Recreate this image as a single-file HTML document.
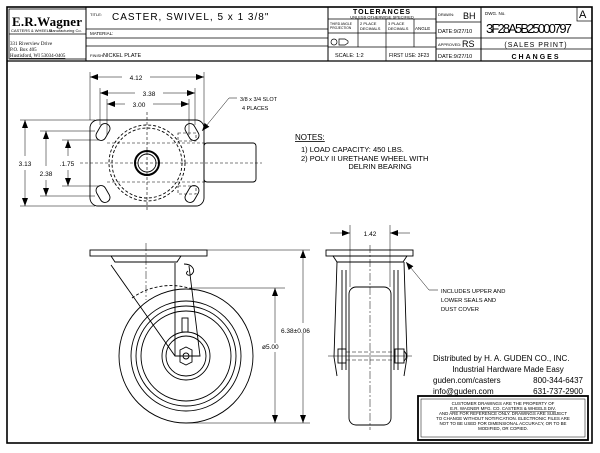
<!DOCTYPE html>
<html><head><style>
body{margin:0;background:#fff}
svg{display:block;font-family:"Liberation Sans",sans-serif}
</style></head><body>
<svg width="600" height="453" viewBox="0 0 600 453" xmlns="http://www.w3.org/2000/svg">
<defs>
<marker id="a" markerWidth="8" markerHeight="6" refX="8" refY="3" orient="auto-start-reverse" markerUnits="userSpaceOnUse"><path d="M0,0L8,3L0,6z" fill="#000"/></marker>
</defs>
<g fill="none" stroke="#000">
<rect x="7" y="7" width="585" height="436" stroke-width="1.6"/>
<line x1="7" y1="61" x2="592" y2="61" stroke-width="1.3"/>
<rect x="9" y="9" width="77" height="50" stroke-width="0.8"/>
<line x1="86" y1="7" x2="86" y2="61"/>
<line x1="86" y1="29" x2="328" y2="29" stroke-width="0.8"/>
<line x1="86" y1="38" x2="328" y2="38" stroke-width="0.8"/>
<line x1="86" y1="46" x2="328" y2="46" stroke-width="0.8"/>
<line x1="328" y1="7" x2="328" y2="61"/>
<line x1="328" y1="19" x2="436" y2="19" stroke-width="0.7"/>
<line x1="328" y1="33" x2="436" y2="33" stroke-width="0.7"/>
<line x1="328" y1="47" x2="436" y2="47" stroke-width="0.7"/>
<line x1="358" y1="19" x2="358" y2="47" stroke-width="0.7"/>
<line x1="386" y1="19" x2="386" y2="61" stroke-width="0.7"/>
<line x1="414" y1="19" x2="414" y2="47" stroke-width="0.7"/>
<line x1="436" y1="7" x2="436" y2="61"/>
<line x1="481" y1="7" x2="481" y2="61"/>
<line x1="436" y1="22" x2="481" y2="22" stroke-width="0.7"/>
<line x1="436" y1="38" x2="592" y2="38" stroke-width="0.7"/>
<line x1="436" y1="49" x2="592" y2="49" stroke-width="0.7"/>
<rect x="577" y="7" width="15" height="14" stroke-width="0.7"/>
<line x1="9" y1="34" x2="86" y2="34" stroke-width="0.7"/>
<circle cx="334" cy="42" r="3" stroke-width="0.7"/><path d="M339,39h6l3,2v2l-3,2h-6z" stroke-width="0.7"/>
</g>
<g font-size="5" fill="#000">
<text x="12" y="26" font-size="13" font-family="Liberation Serif" font-weight="bold" textLength="70">E.R.Wagner</text>
<text x="11" y="32" font-size="4">CASTERS &amp; WHEELS</text><text x="49" y="32" font-size="4">Manufacturing Co.</text>
<text x="10" y="45" font-family="Liberation Serif">331 Riverview Drive</text>
<text x="10" y="51" font-family="Liberation Serif">P.O. Box 405</text>
<text x="10" y="57" font-family="Liberation Serif" text-decoration="underline">Hustisford, WI 53034-0405</text>
<text x="90" y="16" font-size="4">TITLE:</text>
<text x="112" y="20" font-size="10" letter-spacing="1">CASTER, SWIVEL, 5 x 1 3/8"</text>
<text x="90" y="35" font-size="4.5">MATERIAL:</text>
<text x="90" y="57" font-size="4">FINISH:</text><text x="103" y="57" font-size="5.5">NICKEL PLATE</text>
<text x="382" y="14" font-size="7" font-weight="bold" text-anchor="middle" letter-spacing="1">TOLERANCES</text>
<text x="382" y="18.5" font-size="4" text-anchor="middle">UNLESS OTHERWISE SPECIFIED</text>
<text x="330" y="25" font-size="3.3">THIRD ANGLE</text><text x="330" y="29" font-size="3.3">PROJECTION</text>
<text x="360" y="25" font-size="4">2 PLACE</text><text x="360" y="30" font-size="4">DECIMALS</text>
<text x="388" y="25" font-size="4">3 PLACE</text><text x="388" y="30" font-size="4">DECIMALS</text>
<text x="415" y="30" font-size="4.5">ANGLE</text>
<text x="335" y="57" font-size="5.5">SCALE: 1:2</text>
<text x="389" y="57" font-size="5">FIRST USE: 3F23</text>
<text x="438" y="16" font-size="4">DRAWN:</text><text x="463" y="19" font-size="9">BH</text>
<text x="438" y="33" font-size="5.5">DATE:9/27/10</text>
<text x="438" y="46" font-size="4">APPROVED:</text><text x="462" y="47" font-size="9">RS</text>
<text x="438" y="58" font-size="5.5">DATE:9/27/10</text>
<text x="485" y="15" font-size="4.5">DWG. No.</text>
<text x="486" y="33" font-size="13" textLength="86">3F28A5B25000797</text>
<text x="579" y="18" font-size="11">A</text>
<text x="536" y="47" font-size="7" text-anchor="middle" letter-spacing="1">(SALES PRINT)</text>
<text x="536" y="59" font-size="7" font-weight="bold" text-anchor="middle" letter-spacing="2">CHANGES</text>
</g>

<g fill="none" stroke="#000" stroke-width="0.9">
<rect x="90" y="120" width="114" height="86" rx="8"/>
<rect x="204" y="143" width="52" height="39" rx="3"/>
<circle cx="147" cy="163" r="12" stroke-width="2"/>
<circle cx="147" cy="163" r="9"/>
<circle cx="147" cy="163" r="38" stroke-dasharray="3,2"/>
<circle cx="147" cy="163" r="35" stroke-dasharray="3,2"/>
<g transform="rotate(-60 103 132)"><rect x="94" y="127" width="18" height="10" rx="5"/></g>
<g transform="rotate(60 103 194)"><rect x="94" y="189" width="18" height="10" rx="5"/></g>
<g transform="rotate(60 192 132)"><rect x="183" y="127" width="18" height="10" rx="5"/></g>
<g transform="rotate(-60 192 194)"><rect x="183" y="189" width="18" height="10" rx="5"/></g>
<g stroke-dasharray="3,2" stroke-width="0.6">
<line x1="147" y1="112" x2="147" y2="212"/><line x1="80" y1="163" x2="262" y2="163"/>
<rect x="178" y="133" width="18" height="8"/><rect x="178" y="186" width="18" height="8"/>
<line x1="107" y1="143" x2="205" y2="143"/><line x1="107" y1="182" x2="205" y2="182"/>
</g>
<g stroke-width="0.5">
<line x1="90" y1="72" x2="90" y2="120"/><line x1="204" y1="72" x2="204" y2="130"/>
<line x1="100" y1="88" x2="100" y2="125"/><line x1="195" y1="88" x2="195" y2="125"/>
<line x1="107" y1="99" x2="107" y2="135"/><line x1="189" y1="99" x2="189" y2="135"/>
<line x1="20" y1="120" x2="95" y2="120"/><line x1="20" y1="206" x2="95" y2="206"/>
<line x1="40" y1="131" x2="95" y2="131"/><line x1="40" y1="196" x2="95" y2="196"/>
<line x1="62" y1="140" x2="100" y2="140"/><line x1="62" y1="186" x2="100" y2="186"/>
<line x1="90" y1="77" x2="122" y2="77" marker-start="url(#a)"/><line x1="150" y1="77" x2="204" y2="77" marker-end="url(#a)"/>
<line x1="100" y1="93" x2="135" y2="93" marker-start="url(#a)"/><line x1="163" y1="93" x2="195" y2="93" marker-end="url(#a)"/>
<line x1="107" y1="104" x2="125" y2="104" marker-start="url(#a)"/><line x1="153" y1="104" x2="189" y2="104" marker-end="url(#a)"/>
<line x1="25" y1="120" x2="25" y2="156" marker-start="url(#a)"/><line x1="25" y1="170" x2="25" y2="206" marker-end="url(#a)"/>
<line x1="46" y1="131" x2="46" y2="166" marker-start="url(#a)"/><line x1="46" y1="180" x2="46" y2="196" marker-end="url(#a)"/>
<line x1="68" y1="140" x2="68" y2="156" marker-start="url(#a)"/><line x1="68" y1="170" x2="68" y2="186" marker-end="url(#a)"/>
<path d="M237,98h-8l-27,33" marker-end="url(#a)"/>
</g>
</g>
<g font-size="6.5" fill="#000">
<text x="136" y="80" text-anchor="middle">4.12</text>
<text x="149" y="96" text-anchor="middle">3.38</text>
<text x="139" y="107" text-anchor="middle">3.00</text>
<text x="25" y="166" text-anchor="middle">3.13</text>
<text x="46" y="176" text-anchor="middle">2.38</text>
<text x="67" y="166" text-anchor="middle">.1.75</text>
<text x="240" y="101" font-size="5.5">3/8 x 3/4 SLOT</text>
<text x="242" y="110" font-size="5.5">4 PLACES</text>
<text x="295" y="140" font-size="8" text-decoration="underline">NOTES:</text>
<text x="301" y="152" font-size="7.5">1) LOAD CAPACITY: 450 LBS.</text>
<text x="301" y="161" font-size="7.5">2) POLY II URETHANE WHEEL WITH</text>
<text x="380" y="169" font-size="7.5" text-anchor="middle">DELRIN BEARING</text>
</g>

<g fill="none" stroke="#000" stroke-width="0.9">
<rect x="90" y="250" width="117" height="6"/>
<path d="M111,256h70l-4,6h-62z"/>
<circle cx="186" cy="356" r="67"/>
<circle cx="186" cy="356" r="55"/>
<circle cx="186" cy="356" r="50"/>
<circle cx="186" cy="356" r="45"/>
<circle cx="186" cy="356" r="24"/>
<circle cx="186" cy="356" r="20"/>
<path d="M111,265l64,91h25l-11,-90M175,263v93"/>
<path d="M184,264c8,0 12,6 8,10c-3,3 -8,0 -4,-3"/>
<polygon points="180,350 186,347 192,350 192,362 186,365 180,362"/>
<circle cx="186" cy="356" r="3"/>
<rect x="182" y="318" width="6" height="14"/>
<path d="M132,298a67,67 0 0 1 63,-8" stroke-dasharray="3,2"/>
<line x1="146" y1="243" x2="146" y2="300" stroke-dasharray="8,2,2,2" stroke-width="0.5"/>
<g stroke-width="0.5">
<line x1="207" y1="250" x2="310" y2="250"/>
<line x1="190" y1="288" x2="285" y2="288"/>
<line x1="186" y1="423" x2="310" y2="423"/>
<line x1="275" y1="288" x2="275" y2="343" marker-start="url(#a)"/><line x1="275" y1="352" x2="275" y2="423" marker-end="url(#a)"/>
<line x1="303" y1="250" x2="303" y2="323" marker-start="url(#a)"/><line x1="303" y1="333" x2="303" y2="423" marker-end="url(#a)"/>
</g>
</g>
<g font-size="6.5" fill="#000">
<text x="281" y="333">6.38±0.06</text>
<text x="262" y="349">ø5.00</text>
</g>

<g fill="none" stroke="#000" stroke-width="0.9">
<rect x="326" y="250" width="87" height="6"/>
<path d="M333,256h74l-4,6h-66z"/>
<path d="M337,262l-3,95l3,19M404,262l3,95l-3,19"/>
<path d="M342,270v100M346,270v100M394,270v100M398,270v100"/>
<rect x="349" y="287" width="42" height="138" rx="7"/>
<rect x="338" y="349" width="8" height="14"/><rect x="395" y="349" width="9" height="14"/>
<path d="M404,351q5,5 0,10"/>
<g stroke-dasharray="4,2" stroke-width="0.6"><line x1="346" y1="352" x2="395" y2="352"/><line x1="346" y1="360" x2="395" y2="360"/></g>
<line x1="370" y1="245" x2="370" y2="430" stroke-dasharray="8,2,2,2" stroke-width="0.5"/>
<line x1="328" y1="356" x2="412" y2="356" stroke-width="0.5"/>
<g stroke-width="0.5">
<line x1="350" y1="225" x2="350" y2="287"/><line x1="390" y1="225" x2="390" y2="287"/>
<line x1="330" y1="233" x2="350" y2="233" marker-end="url(#a)"/><line x1="410" y1="233" x2="390" y2="233" marker-end="url(#a)"/>
<path d="M438,290h-9l-23,-28" marker-end="url(#a)"/>
</g>
</g>
<g fill="#000">
<text x="370" y="236" font-size="6.5" text-anchor="middle">1.42</text>
<text x="441" y="293" font-size="5.8">INCLUDES UPPER AND</text>
<text x="441" y="302" font-size="5.8">LOWER SEALS AND</text>
<text x="441" y="311" font-size="5.8">DUST COVER</text>
<text x="433" y="361" font-size="8">Distributed by   H. A. GUDEN CO., INC.</text>
<text x="508" y="372" font-size="8" text-anchor="middle">Industrial Hardware Made Easy</text>
<text x="433" y="383" font-size="8">guden.com/casters</text><text x="583" y="383" font-size="8" text-anchor="end">800-344-6437</text>
<text x="433" y="394" font-size="8">info@guden.com</text><text x="583" y="394" font-size="8" text-anchor="end">631-737-2900</text>
</g>
<rect x="418" y="396" width="170" height="44" fill="none" stroke="#000" stroke-width="1.8"/>
<rect x="421" y="399" width="164" height="38" fill="none" stroke="#000" stroke-width="0.5"/>
<g font-size="4.4" fill="#000" text-anchor="middle">
<text x="503" y="405">CUSTOMER DRAWINGS ARE THE PROPERTY OF</text>
<text x="503" y="410" text-decoration="underline">E.R. WAGNER MFG. CO. CASTERS &amp; WHEELS DIV.</text>
<text x="503" y="415">AND ARE FOR REFERENCE ONLY. DRAWINGS ARE SUBJECT</text>
<text x="503" y="420">TO CHANGE WITHOUT NOTIFICATION. ELECTRONIC FILES ARE</text>
<text x="503" y="425">NOT TO BE USED FOR DIMENSIONAL ACCURACY, OR TO BE</text>
<text x="503" y="430">MODIFIED, OR COPIED.</text>
</g>
</svg>
</body></html>
